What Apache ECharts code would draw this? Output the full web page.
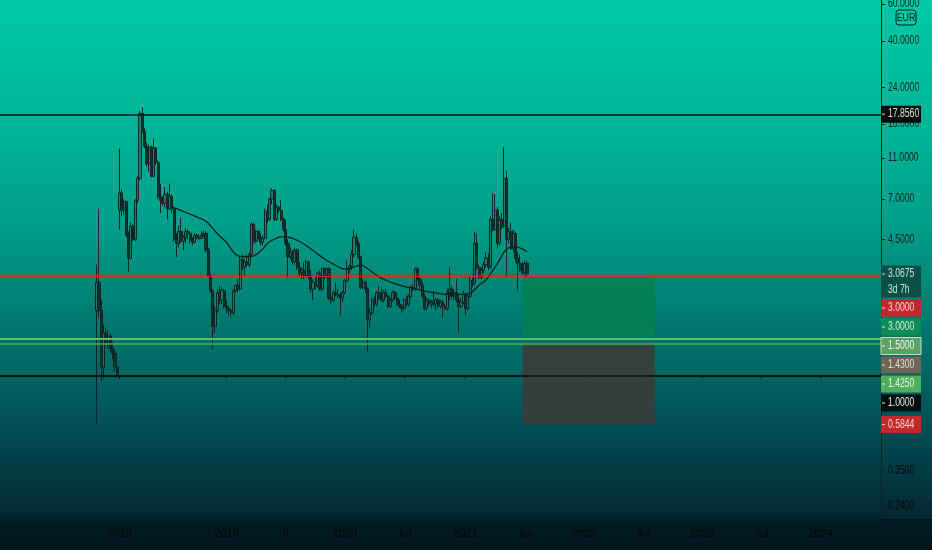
<!DOCTYPE html>
<html><head><meta charset="utf-8">
<script src="https://cdn.jsdelivr.net/npm/echarts@6/dist/echarts.min.js"></script>
<style>html,body{margin:0;padding:0;background:#021a20}#c{width:932px;height:550px}</style>
</head><body><div id="c"></div>
<script>
// ---------- data ----------
const FIRST_BAR = 42;      // slot of the first weekly candle
const SLOT_COUNT = 387;    // weekly slots across the visible time range
const opens = [
2.05,2.8,2.05,1.1,1.6,1.45,1.55,1.35,1.28,1.1,
6.2,7.5,6.2,6.8,4.7,3.65,5.2,4.5,6.9,8.8,
18.0,14.8,12.5,10.3,12.4,9.0,12.3,10.5,7.2,6.9,
6.7,7.4,6.3,7.2,6.3,4.5,4.3,4.9,4.4,4.6,
4.9,4.8,4.45,4.35,4.7,4.6,4.55,4.7,4.8,4.0,
3.0,2.55,1.72,2.05,2.5,2.3,2.55,2.15,2.1,2.05,
2.0,2.55,2.7,2.6,3.6,3.3,3.5,3.4,3.8,5.3,
4.4,4.9,4.6,4.35,4.55,6.1,5.6,7.0,7.7,5.6,
6.4,6.2,5.6,5.0,4.3,3.7,3.9,3.5,4.0,3.3,
3.1,3.2,3.0,3.5,3.0,2.6,2.8,2.7,3.1,2.6,
3.25,3.0,3.25,2.35,2.3,2.5,2.45,2.4,2.35,2.5,
2.85,3.25,3.35,3.8,4.6,4.3,3.7,2.65,2.8,2.6,
1.85,2.0,2.3,2.2,2.5,2.35,2.3,2.5,2.4,2.15,
2.3,2.5,2.35,2.2,2.15,2.1,2.3,2.2,2.4,2.65,
2.6,3.25,2.9,2.7,2.4,2.1,2.3,2.2,2.25,2.2,
2.3,2.15,2.25,2.15,2.1,2.5,2.6,2.4,2.5,2.3,
2.15,2.25,2.45,2.1,2.4,2.85,2.75,4.3,3.3,2.95,
3.2,3.4,3.65,3.3,5.6,5.0,6.2,4.3,5.6,5.2,
8.8,4.5,4.9,4.05,4.8,3.65,3.45,3.2,3.1,3.45];
const highs = [
3.4,6.3,2.3,1.75,1.7,1.65,1.6,1.45,1.35,1.15,
12.2,7.8,7.0,6.9,4.9,5.4,5.3,7.0,9.0,18.5,
19.3,15.3,13.0,12.8,12.6,13.6,12.4,10.7,8.3,7.2,
8.0,7.6,8.3,7.4,6.5,4.8,5.2,5.7,4.7,5.1,
5.0,4.9,4.6,4.8,4.8,4.75,4.9,4.95,4.9,4.1,
3.1,2.6,2.15,2.6,2.7,2.65,2.6,2.3,2.15,2.1,
2.6,2.75,2.9,3.7,3.8,3.6,3.8,3.9,5.4,5.4,
5.0,5.0,4.8,4.7,6.3,6.6,7.1,7.9,7.8,6.6,
6.5,6.9,5.7,5.6,4.5,4.1,4.0,4.1,4.05,3.5,
3.3,3.5,3.6,3.55,3.2,2.9,2.95,3.15,3.2,3.3,
3.3,3.3,3.3,2.6,2.55,2.8,2.6,2.5,2.55,2.9,
3.6,3.4,4.0,5.0,4.8,4.4,3.75,2.9,2.85,2.65,
2.1,2.35,2.4,2.55,2.7,2.65,2.6,2.6,2.45,2.35,
2.55,2.55,2.4,2.3,2.2,2.35,2.45,2.45,2.7,2.75,
3.3,3.3,2.95,2.8,2.5,2.35,2.35,2.3,2.55,2.35,
2.35,2.3,2.3,2.2,2.6,3.3,2.7,2.6,2.9,2.45,
2.35,2.55,2.5,2.45,3.0,2.95,4.9,4.8,3.4,3.3,
3.5,3.9,3.85,5.8,7.5,7.4,6.4,5.8,6.0,12.4,
9.6,5.1,5.4,5.0,4.85,3.9,3.8,3.5,3.55,3.55];
const lows = [
0.59,1.9,0.95,0.97,1.4,1.35,1.3,1.2,1.05,0.98,
5.0,5.8,5.9,4.6,3.15,3.6,4.4,4.4,6.7,8.6,
14.5,12.3,10.0,9.4,8.9,8.9,10.2,7.0,6.0,6.5,
6.4,5.6,6.2,6.0,4.4,3.7,4.1,4.3,4.0,4.3,
4.5,4.3,4.2,4.3,4.5,4.45,4.5,4.6,3.9,2.95,
2.5,1.35,1.6,2.0,2.2,2.2,2.1,2.0,1.95,1.9,
1.95,2.5,2.5,2.55,3.2,3.0,3.3,3.3,3.7,4.3,
4.3,4.5,4.2,4.2,4.5,5.4,5.5,6.6,5.5,5.5,
6.0,5.5,4.9,4.2,2.95,3.6,3.4,3.4,3.2,3.0,
2.9,2.9,2.95,2.9,2.5,2.3,2.6,2.65,2.55,2.55,
2.9,2.95,2.3,2.2,2.25,2.4,2.35,1.95,2.25,2.45,
2.8,3.1,3.2,3.7,4.2,3.6,2.6,2.6,2.5,1.3,
1.7,1.95,2.15,2.15,2.3,2.25,2.25,2.35,2.1,2.1,
2.25,2.3,2.15,2.1,2.0,2.05,2.15,2.15,2.35,2.55,
2.55,2.85,2.6,2.35,2.05,2.05,2.15,2.1,2.15,2.05,
2.1,2.1,1.9,2.05,2.05,2.3,2.35,2.3,2.25,1.62,
2.1,2.2,1.95,2.05,2.35,2.65,2.7,3.2,2.9,2.9,
3.1,3.3,3.2,3.25,4.9,4.95,4.1,4.2,5.0,5.1,
3.0,4.3,4.0,3.9,3.5,2.55,3.15,3.05,3.0,2.95];
const closes = [
2.8,2.05,1.1,1.6,1.45,1.55,1.35,1.28,1.1,1.02,
7.5,6.2,6.8,4.7,3.65,5.2,4.5,6.9,8.8,18.0,
14.8,12.5,10.3,12.4,9.0,12.3,10.5,7.2,6.9,6.7,
7.4,6.3,7.2,6.3,4.5,4.3,4.9,4.4,4.6,4.9,
4.8,4.45,4.35,4.7,4.6,4.55,4.7,4.8,4.0,3.0,
2.55,1.72,2.05,2.5,2.3,2.55,2.15,2.1,2.05,2.0,
2.55,2.7,2.6,3.6,3.3,3.5,3.4,3.8,5.3,4.4,
4.9,4.6,4.35,4.55,6.1,5.6,7.0,7.7,5.6,6.4,
6.2,5.6,5.0,4.3,3.7,3.9,3.5,4.0,3.3,3.1,
3.2,3.0,3.5,3.0,2.6,2.8,2.7,3.1,2.6,3.25,
3.0,3.25,2.35,2.3,2.5,2.45,2.4,2.35,2.5,2.85,
3.25,3.35,3.8,4.6,4.3,3.7,2.65,2.8,2.6,1.85,
2.0,2.3,2.2,2.5,2.35,2.3,2.5,2.4,2.15,2.3,
2.5,2.35,2.2,2.15,2.1,2.3,2.2,2.4,2.65,2.6,
3.25,2.9,2.7,2.4,2.1,2.3,2.2,2.25,2.2,2.3,
2.15,2.25,2.15,2.1,2.5,2.6,2.4,2.5,2.3,2.15,
2.25,2.45,2.1,2.4,2.85,2.75,4.3,3.3,2.95,3.2,
3.4,3.65,3.3,5.6,5.0,6.2,4.3,5.6,5.2,8.8,
4.5,4.9,4.05,4.8,3.65,3.45,3.2,3.1,3.45,3.0675];
// moving average: [slot, value]
const maPoints = [[76,6.37],[82,5.99],[89,5.56],[91,5.37],[95,4.78],[99,4.34],[103,3.8],[106,3.71],[110,3.72],
[114,3.95],[117,4.3],[120,4.5],[123,4.63],[126,4.6],[130,4.45],[134,4.2],[138,3.9],[142,3.62],[146,3.42],
[150,3.25],[152,3.24],[155,3.32],[158,3.38],[161,3.25],[164,3.08],[167,2.93],[172,2.78],[177,2.68],[181,2.62],
[188,2.52],[196,2.45],[202,2.45],[206,2.48],[210,2.72],[213,2.87],[216,3.2],[218,3.44],[220,3.75],[221,3.92],
[223,4.1],[226,4.14],[231,3.92]];
const xTickLabels = [[52,'2018'],[99,'2019'],[125,'8'],[151,'2020'],[177,'Jul'],[204,'2021'],[230,'Jul'],
[256,'2022'],[282,'Jul'],[308,'2023'],[334,'Jul'],[360,'2024']];
const yTickValues = [0.24,0.35,4.5,7,11,16,24,40,60];
const priceMin = 0.204, priceMax = 62.8;
const resistance = 17.856, redLevel = 3.0, lastPrice = 3.0675, greenHigh = 1.5, greenLow = 1.425, support = 1.0;
const targetTop = 3.0, entryHigh = 1.5, entryLow = 1.43, stopPrice = 0.5844;
const positionStart = 229, positionEnd = 287;
const priceTags = [
 {price: 17.856, text: '17.8560', bg: '#050b0b', fg: '#d8e4d8'},
 {price: 3.0675, text: '3.0675', sub: '3d 7h', bg: '#0c4e48', fg: '#c3e6d2'},
 {price: 3.0, text: '3.0000', bg: '#c2272d', fg: '#f5d5cf'},
 {price: 3.0, text: '3.0000', bg: '#0f8d57', fg: '#cfeedd'},
 {price: 1.5, text: '1.5000', bg: '#5e9f66', fg: '#f0f8ec', border: '#bfe4b8'},
 {price: 1.43, text: '1.4300', bg: '#6e6658', fg: '#e6dccb'},
 {price: 1.425, text: '1.4250', bg: '#4fad5c', fg: '#eaf7e6'},
 {price: 1.0, text: '1.0000', bg: '#060e0e', fg: '#e6ece6'},
 {price: 0.5844, text: '0.5844', bg: '#c4272c', fg: '#f5d5cf'}
];
// ---------- chart ----------
const FONT = '"Liberation Sans",Arial,sans-serif';
const NARROW = 0.72;
const ln = Math.log;
const categories = Array.from({length: SLOT_COUNT}, (_, i) => String(i));
const candleData = categories.map((_, i) => {
  const k = i - FIRST_BAR;
  if (k < 0 || k >= closes.length) return '-';
  return [ln(opens[k]), ln(closes[k]), ln(lows[k]), ln(highs[k])];
});
const xLabelMap = {};
xTickLabels.forEach(([i, t]) => { xLabelMap[String(i)] = t; });
const lineMark = (v, color, width, type) => ({yAxis: ln(v), lineStyle: {color, width, type: type || 'solid'}});

const chart = echarts.init(document.getElementById('c'), null, {width: 932, height: 550});
chart.setOption({
  animation: false,
  backgroundColor: {type: 'linear', x: 0, y: 0, x2: 0, y2: 1, colorStops: [
    {offset: 0, color: '#00caa3'}, {offset: 0.2, color: '#00b898'}, {offset: 0.4, color: '#00a08a'},
    {offset: 0.5, color: '#008b7b'}, {offset: 0.62, color: '#00716a'}, {offset: 0.75, color: '#02555a'},
    {offset: 0.87, color: '#033842'}, {offset: 0.944, color: '#03252d'}, {offset: 0.95, color: '#021b22'},
    {offset: 1, color: '#02171e'}]},
  grid: {left: 0, right: 51, top: 0, bottom: 30, containLabel: false},
  xAxis: {
    type: 'category', data: categories, boundaryGap: true,
    axisLine: {lineStyle: {color: '#050d10', width: 1.5}},
    axisTick: {show: true, alignWithLabel: true, length: 3, interval: (i, v) => v in xLabelMap,
      lineStyle: {color: '#050d10'}},
    axisLabel: {interval: (i, v) => v in xLabelMap, formatter: v => xLabelMap[v] || '',
      color: '#020607', fontSize: 11, fontFamily: FONT, margin: 8},
    splitLine: {show: false}
  },
  yAxis: {
    type: 'value', position: 'right', min: ln(priceMin), max: ln(priceMax), scale: true,
    axisLine: {show: true, lineStyle: {color: '#0a2422', width: 1}},
    axisTick: {show: true, length: 4, customValues: yTickValues.map(ln), lineStyle: {color: '#0a2422'}},
    axisLabel: {show: false},
    splitLine: {show: false}
  },
  series: [
    {
      type: 'candlestick', data: candleData, barWidth: 2.6, z: 2,
      itemStyle: {color: 'rgba(40,118,102,0.9)', color0: '#0f3430', borderColor: '#0b2624',
        borderColor0: '#0b2624', borderWidth: 1},
      markLine: {silent: true, symbol: ['none', 'none'], label: {show: false},
        data: [
          lineMark(lastPrice, '#3d5753', 1, 'dotted'),
          lineMark(redLevel, '#e0231f', 1.2)
        ]}
    },
    {
      type: 'line', data: maPoints.map(([i, v]) => [i, ln(v)]), smooth: 0.35, showSymbol: false,
      lineStyle: {color: '#0a211e', width: 1.3}, z: 3
    },
    {
      type: 'line', data: [], z: 4,
      markArea: {silent: true, data: [
        [{xAxis: String(positionStart), yAxis: ln(targetTop), itemStyle: {color: 'rgba(3,128,86,0.92)'}},
         {xAxis: String(positionEnd), yAxis: ln(entryHigh)}],
        [{xAxis: String(positionStart), yAxis: ln(entryLow), itemStyle: {color: 'rgba(60,58,56,0.86)'}},
         {xAxis: String(positionEnd), yAxis: ln(stopPrice)}]
      ]}
    },
    {
      type: 'line', data: [], z: 5,
      markLine: {silent: true, symbol: ['none', 'none'], label: {show: false},
        data: [
          lineMark(resistance, '#081614', 1.5),
          lineMark(greenHigh, '#63bd66', 2),
          lineMark(greenLow, '#4fb052', 1.5),
          lineMark(support, '#061312', 1.5)
        ]}
    }
  ]
});

const gr = [];
const axisX = chart.convertToPixel({xAxisIndex: 0}, String(SLOT_COUNT - 1)) + 2.2765 / 2;
const narrowText = (x, y, text, fill, z, align) => ({type: 'text', z: z, x: x, y: y, scaleX: NARROW,
  style: {text: text, fill: fill, fontSize: 12, fontFamily: FONT, align: align || 'left', verticalAlign: 'middle'}});
// regular price-scale labels, placed by the axis scale
yTickValues.forEach(v => {
  const y = chart.convertToPixel({yAxisIndex: 0}, ln(v));
  gr.push(narrowText(axisX + 7, y, v.toFixed(4), v < 1 ? '#020a0a' : '#082220', 60));
});
// price tags, placed from the axis scale and pushed apart like the platform does
let prevBottom = -1e9;
priceTags.forEach(t => {
  const y = chart.convertToPixel({yAxisIndex: 0}, ln(t.price));
  const h = t.sub ? 32 : 17;
  let top = y - 8.5;
  if (top < prevBottom + 2) top = prevBottom + 2;
  prevBottom = top + h;
  gr.push({type: 'rect', z: 100, shape: {x: axisX, y: top, width: 40, height: h},
    style: {fill: t.bg, stroke: t.border || null, lineWidth: t.border ? 1 : 0}});
  gr.push({type: 'line', z: 101, shape: {x1: axisX + 1, y1: top + 8.5, x2: axisX + 4, y2: top + 8.5},
    style: {stroke: t.fg, lineWidth: 1}});
  gr.push(narrowText(axisX + 7, top + 8.5, t.text, t.fg, 101));
  if (t.sub) gr.push(narrowText(axisX + 7, top + 24.5, t.sub, t.fg, 101));
});
// currency badge and axis extensions
gr.push({type: 'rect', z: 100, shape: {x: axisX + 15, y: 10, width: 20, height: 15, r: 3},
  style: {fill: 'none', stroke: '#082220', lineWidth: 1}});
gr.push({type: 'text', z: 101, x: axisX + 25, y: 17.5, scaleX: 0.8,
  style: {text: 'EUR', fill: '#082220', fontSize: 11, fontFamily: FONT, align: 'center', verticalAlign: 'middle'}});
gr.push({type: 'line', z: 50, shape: {x1: axisX, y1: 520, x2: 932, y2: 520}, style: {stroke: '#050d10', lineWidth: 1.5}});
gr.push({type: 'line', z: 50, shape: {x1: axisX, y1: 520, x2: axisX, y2: 550}, style: {stroke: '#0a1a1c', lineWidth: 1}});
chart.setOption({graphic: gr});
</script></body></html>
